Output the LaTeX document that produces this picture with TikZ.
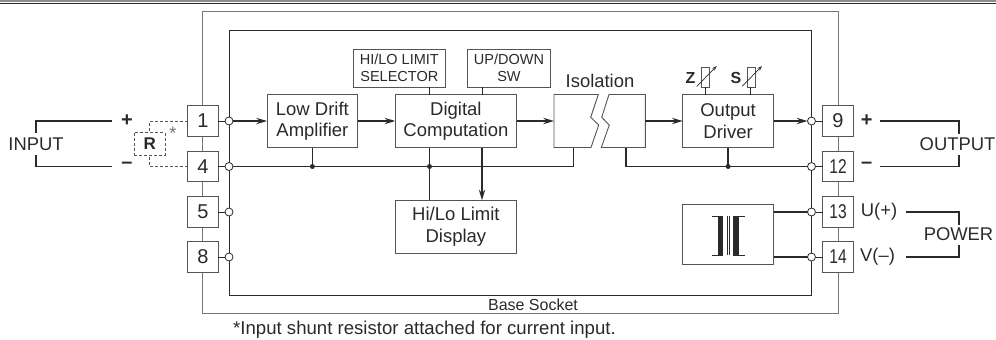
\documentclass[tikz,border=0pt]{standalone}
\usepackage{graphicx}
\usepackage{fontspec}
\setmainfont{Liberation Sans}
\usetikzlibrary{arrows.meta, calc, positioning}
\definecolor{ink}{HTML}{2A2A2A}
\definecolor{edge}{HTML}{555555}
\newcommand{\narrownum}[1]{\scalebox{0.78}[1]{#1}}
\tikzset{%
	block/.style={draw=edge, line width=0.9pt, rectangle, fill=white, align=center, inner sep=0pt,%
		outer sep=0pt, minimum height=53pt, font=\fontsize{18.5}{21.5}\selectfont, text=ink},
	smallbox/.style={draw=edge, line width=0.9pt, rectangle, fill=white, align=center, inner sep=0pt,%
		outer sep=0pt, minimum height=38pt, font=\fontsize{14.5}{16.5}\selectfont, text=ink},
	term/.style={draw=edge, line width=0.9pt, rectangle, fill=white, inner sep=0pt, outer sep=0pt,%
		minimum width=30.5pt, minimum height=30.5pt, font=\fontsize{20}{20}\selectfont, text=ink},
	hollow/.style={draw=ink, line width=0.8pt, circle, fill=white, minimum size=8pt, inner sep=0pt, outer sep=0pt},
	joint/.style={circle, fill=ink, minimum size=5pt, inner sep=0pt, outer sep=0pt},
	lbl/.style={inner sep=0pt, text=ink, font=\fontsize{18.4}{18.4}\selectfont},
	signlbl/.style={inner sep=0pt, text=ink, font=\bfseries\fontsize{20}{20}\selectfont},
	trimlbl/.style={inner sep=0pt, text=ink, font=\bfseries\fontsize{16}{16}\selectfont},
	pot/.style={draw=edge, line width=0.7pt, rectangle, fill=white, minimum width=8pt, minimum height=19.5pt,%
		inner sep=0pt, outer sep=0pt},
	wire/.style={draw=ink, line width=1.5pt},
	sig/.style={wire, -{Stealth[length=11pt, width=6.5pt, inset=4pt, line width=0pt]}},
	hair/.style={draw=ink, line width=0.9pt},
	ext/.style={draw=ink, line width=1.2pt},
	dashline/.style={draw=edge, line width=0.8pt, dash pattern=on 3pt off 2pt},
	socketline/.style={draw=edge!80, line width=1pt},
	trim/.style={draw=ink, line width=0.7pt, -{Stealth[length=5pt, width=3.5pt, line width=0pt]}}
}
\begin{document}
\begin{tikzpicture}[x=1pt, y=-1pt]
	\useasboundingbox (0,0) rectangle (996,340);

	% top strip
	\fill[black!45] (0,0) rectangle (996,2.4);
	\draw[ink, line width=0.9pt] (0,3) -- (996,3);

	% socket and module frames
	\draw[socketline] (202.5,11) rectangle (838,313.5);
	\draw[hair] (229,30) rectangle (811.5,295);
	\node[inner sep=0pt, text=ink, font=\fontsize{16}{16}\selectfont] (socket) at (533,304.5) {Base Socket};
	\node[inner sep=0pt, text=ink, anchor=west, font=\fontsize{18.6}{18.6}\selectfont] (note) at (233,330) {*Input shunt resistor attached for current input.};

	% terminals
	\node[term] (t1) at (203,121) {1};
	\node[term] (t4) at (203,166.5) {4};
	\node[term] (t5) at (203,212) {5};
	\node[term] (t8) at (203,257) {8};
	\node[term] (t9) at (838,121) {9};
	\node[term] (t12) at (838,166.5) {\narrownum{12}};
	\node[term] (t13) at (838,212) {\narrownum{13}};
	\node[term] (t14) at (838,257) {\narrownum{14}};

	% blocks
	\node[block, minimum width=90.7pt] (amp) at (312.4,121) {Low Drift\\Amplifier};
	\node[block, minimum width=121.2pt] (comp) at (455.9,121) {Digital\\Computation};
	\node[block, minimum width=121.2pt] (disp) at (455.9,226.8) {Hi/Lo Limit\\Display};
	\node[block, minimum width=90.8pt] (drv) at (728.1,121) {Output\\Driver};
	\node[block, minimum width=90.8pt, minimum height=60.5pt] (pwr) at (728.1,234.3) {};
	\node[smallbox, minimum width=91.3pt] (sel) at (399.3,68) {HI/LO LIMIT\\SELECTOR};
	\node[smallbox, minimum width=83pt] (updn) at (509,68) {UP/DOWN\\SW};
	\node[lbl] (iso) at (600,81) {Isolation};

	% isolation halves
	\draw[draw=edge, line width=0.9pt] (598.3,94.5) -- (590.7,117.3) -- (598.7,125) -- (591,147.5) -- (554,147.5) -- (554,94.5) -- cycle;
	\draw[draw=edge, line width=0.9pt] (609,94.5) -- (601.7,117.3) -- (609.3,125) -- (601.3,147.5) -- (645.3,147.5) -- (645.3,94.5) -- cycle;
	\coordinate (isoin) at (554,121);
	\coordinate (isoout) at (645.3,121);
	\coordinate (isoa) at (573.3,147.5);
	\coordinate (isob) at (626,147.5);

	% common lines
	\coordinate (jx1) at (312.4,166.5);
	\coordinate (jx2) at (429.5,166.5);
	\coordinate (jx3) at (728.1,166.5);
	\draw[wire] (229,166.5) -- (jx2) -| (isoa);
	\draw[wire] (isob) |- (jx3) -- (811.5,166.5);
	\draw[wire] (amp.south) -- (jx1);
	\draw[wire] (jx3) -- (drv.south);
	\draw[wire] (jx2 |- comp.south) -- (jx2 |- disp.north);
	\coordinate (updown) at (482,147.5);
	\draw[sig] (updown) -- (updown |- disp.north);
	\draw[wire] (pwr.east |- 811.5,212) -- (811.5,212);
	\draw[wire] (pwr.east |- 811.5,257) -- (811.5,257);
	\coordinate (selfoot) at (429.5,87);
	\coordinate (updnfoot) at (482,87);
	\draw[hair] (selfoot) -- (selfoot |- comp.north);
	\draw[hair] (updnfoot) -- (updnfoot |- comp.north);

	% junctions on the module frame
	\node[hollow] (c1) at (229,121) {};
	\node[hollow] (c4) at (229,166.5) {};
	\node[hollow] (c5) at (229,212) {};
	\node[hollow] (c8) at (229,257) {};
	\node[hollow] (c9) at (811.5,121) {};
	\node[hollow] (c12) at (811.5,166.5) {};
	\node[hollow] (c13) at (811.5,212) {};
	\node[hollow] (c14) at (811.5,257) {};
	\node[joint] (j1) at (jx1) {};
	\node[joint] (j2) at (jx2) {};
	\node[joint] (j3) at (jx3) {};

	% terminal stubs
	\draw[hair] (t1) -- (c1);
	\draw[hair] (t4) -- (c4);
	\draw[hair] (t5) -- (c5);
	\draw[hair] (t8) -- (c8);
	\draw[hair] (c9) -- (t9);
	\draw[hair] (c12) -- (t12);
	\draw[hair] (c13) -- (t13);
	\draw[hair] (c14) -- (t14);

	% signal path
	\draw[sig] (c1) -- (amp);
	\draw[sig] (amp) -- (comp);
	\draw[sig] (comp) -- (isoin);
	\draw[sig] (isoout) -- (drv);
	\draw[sig] (drv) -- (c9);

	% transformer
	\fill[ink] (717.6,216) rectangle (723.3,255);
	\fill[ink] (733.3,216) rectangle (739.2,255);
	\draw[ink, line width=0.7pt] (711.7,216) -- (723.3,216) (711.7,255) -- (723.3,255);
	\draw[ink, line width=0.7pt] (733.3,216) -- (745.3,216) (733.3,255) -- (745.3,255);
	\draw[ink, line width=0.6pt] (727.4,216) -- (727.4,255) (729,216) -- (729,255);

	% trimmers
	\node[pot] (zpot) at (705.7,77.2) {};
	\node[pot] (spot) at (750.9,77.2) {};
	\draw[hair] (zpot) -- (zpot |- drv.north);
	\draw[hair] (spot) -- (spot |- drv.north);
	\coordinate (za) at (696.7,86.5);
	\coordinate (zb) at (716.7,66);
	\coordinate (sa) at (742,86.5);
	\coordinate (sb) at (762,66);
	\draw[trim] (za) -- (zb);
	\draw[trim] (sa) -- (sb);
	\node[trimlbl] (zlbl) at (690.5,78) {Z};
	\node[trimlbl] (slbl) at (736,78) {S};

	% input side
	\node[lbl] (input) at (36,144) {INPUT};
	\node[signlbl] (ipos) at (127,120.5) {+};
	\node[signlbl] (ineg) at (127,165.5) {--};
	\draw[ext] (112,121) -- (36,121) -- (36,133);
	\draw[ext] (112,166.5) -- (36,166.5) -- (36,155);
	\node[draw=edge, line width=0.8pt, dash pattern=on 3pt off 2pt, minimum width=30.5pt, minimum height=23pt, inner sep=0pt, outer sep=0pt, text=ink, font=\bfseries\fontsize{17}{17}\selectfont] (res) at (149.7,143.5) {R};
	\draw[dashline] (t1) -| (res.north);
	\draw[dashline] (t4) -| (res.south);
	\node[inner sep=0pt, text=black!55, font=\fontsize{18}{18}\selectfont] (star) at (173,133) {*};

	% output side
	\node[lbl] (output) at (957.5,144) {OUTPUT};
	\node[signlbl] (opos) at (866.7,120.5) {+};
	\node[signlbl] (oneg) at (866.7,165.5) {--};
	\draw[ext] (880,121) -- (959,121) -- (959,134);
	\draw[ext] (880,166.5) -- (959,166.5) -- (959,155);

	% power side
	\node[lbl] (upos) at (879,212) {U(+)};
	\node[lbl] (vneg) at (877.5,257) {V(--)};
	\node[lbl] (power) at (958.5,234.5) {POWER};
	\draw[ext] (906,212) -- (959,212) -- (959,225);
	\draw[ext] (906,257) -- (959,257) -- (959,245);
\end{tikzpicture}
\end{document}
